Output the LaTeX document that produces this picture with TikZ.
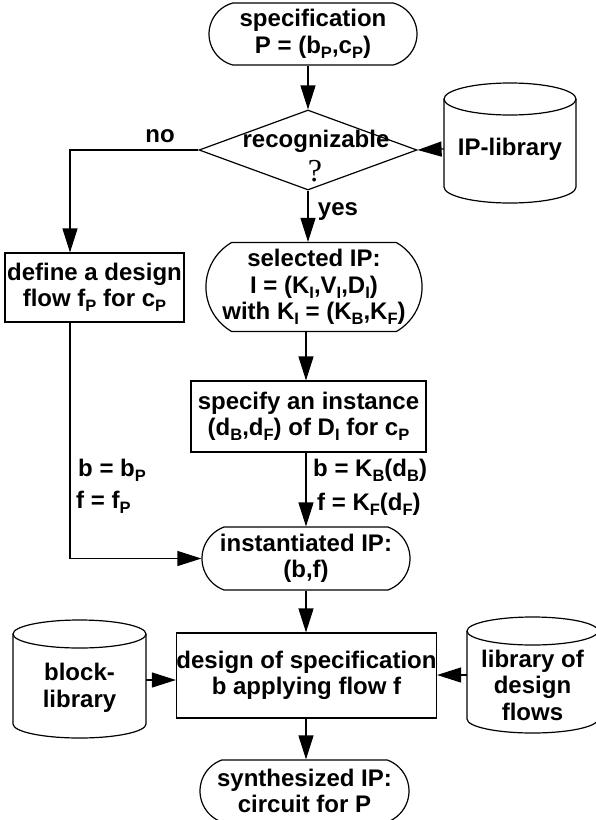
\documentclass[tikz,border=0pt]{standalone}
\usepackage{fontspec}
\setmainfont{Liberation Sans}
\newfontfamily\qfont{Liberation Serif}
\usetikzlibrary{shapes.geometric,shapes.misc,arrows.meta}
\newcommand\sbs[1]{\raisebox{-5pt}{\fontsize{16.5}{16.5}\selectfont #1}}
\newcommand\cylshape[5]{% x1, x2, ytop, ybot, ry
  \pgfmathsetmacro\cylcx{(#1+#2)/2}%
  \pgfmathsetmacro\cylrx{(#2-#1)/2}%
  \draw[ln] (\cylcx,#3+#5) ellipse [x radius=\cylrx, y radius=#5];
  \draw[ln] (#1,#3+#5) -- (#1,#4-#5) arc [start angle=180, end angle=0, x radius=\cylrx, y radius=#5] -- (#2,#3+#5);
}
\tikzset{
  every node/.style={font=\fontsize{24}{26.5}\selectfont\bfseries, inner sep=0pt, align=center},
  ln/.style={line width=1.2pt},
  box/.style={draw, rectangle, ln},
  term/.style={draw, rounded rectangle, ln},
  arr/.style={ln, -{Triangle[length=24pt,width=15pt]}},
  lbl/.style={anchor=west},
  cyltext/.style={rectangle},
}
\begin{document}
\begin{tikzpicture}[x=1pt,y=-1pt]
\useasboundingbox (0,0) rectangle (596,820);
\coordinate (ax) at (306,0);
\coordinate (lx) at (70,0);

\node[term, rounded rectangle arc length=150, minimum width=208pt, minimum height=62pt] (spec) at (313,34)
  {specification\\P = (b\sbs{P},c\sbs{P})};
\node[diamond, draw, ln, minimum width=218pt, minimum height=80pt] (dia) at (308,150) {};
\node (recog) at (316,141) {recognizable};
\node (q) at (315,171) {\qfont\mdseries\fontsize{32}{32}\selectfont ?};
\node (no) at (160,136) {no};
\node (yes) at (338,212) {yes};

\cylshape{444}{576}{83}{203}{16}
\node[cyltext, minimum width=132pt, minimum height=88pt] (iplib) at (510,149) {IP-library};

\node[box, minimum width=179pt, minimum height=69pt] (def) at (94.5,287.5)
  {define a design\\flow f\sbs{P} for c\sbs{P}};
\node[term, rounded rectangle arc length=120, minimum width=216pt, minimum height=89pt] (sel) at (314,287)
  {selected IP:\\I = (K\sbs{I},V\sbs{I},D\sbs{I})\\with K\sbs{I} = (K\sbs{B},K\sbs{F})};
\node[box, minimum width=235pt, minimum height=71pt] (spc) at (308.5,416.5)
  {specify an instance\\(d\sbs{B},d\sbs{F}) of D\sbs{I} for c\sbs{P}};

\node[lbl] (bp) at (78,470) {b = b\sbs{P}};
\node[lbl] (fp) at (76,502) {f = f\sbs{P}};
\node[lbl] (bk) at (313,470) {b = K\sbs{B}(d\sbs{B})};
\node[lbl] (fk) at (317,504) {f = K\sbs{F}(d\sbs{F})};

\node[term, rounded rectangle arc length=140, minimum width=208pt, minimum height=63pt] (inst) at (306,558.5)
  {instantiated IP:\\(b,f)};
\node[box, minimum width=257pt, minimum height=85pt] (des) at (306.5,675.5)
  {design of specification\\b applying flow f};

\cylshape{13}{146}{620}{738}{14}
\node[cyltext, minimum width=133pt, minimum height=80pt] (blib) at (79.5,688) {block-\\library};
\cylshape{467}{598}{617}{733}{14}
\node[cyltext, minimum width=131pt, minimum height=80pt] (flib) at (532.5,685) {library of\\design\\flows};

\node[term, rounded rectangle arc length=140, minimum width=209pt, minimum height=62pt] (syn) at (304.5,791)
  {synthesized IP:\\circuit for P};

\draw[arr] (spec.south -| dia) -- (dia.north);
\draw[arr] (iplib.west) -- (dia.east);
\draw[arr] (dia.west) -| (def.north -| lx);
\draw[arr] (dia.south) -- (sel.north -| dia);
\draw[arr] (sel.south -| ax) -- (spc.north -| ax);
\draw[arr] (spc.south -| ax) -- (inst.north -| ax);
\draw[arr] (def.south -| lx) |- (inst.west);
\draw[arr] (inst.south -| ax) -- (des.north -| ax);
\draw[arr] ([yshift=8pt]blib.east) -- ([yshift=8pt]des.west |- blib.east);
\draw[arr] ([yshift=10pt]flib.west) -- ([yshift=10pt]des.east |- flib.west);
\draw[arr] (des.south -| ax) -- (syn.north -| ax);
\end{tikzpicture}
\end{document}
